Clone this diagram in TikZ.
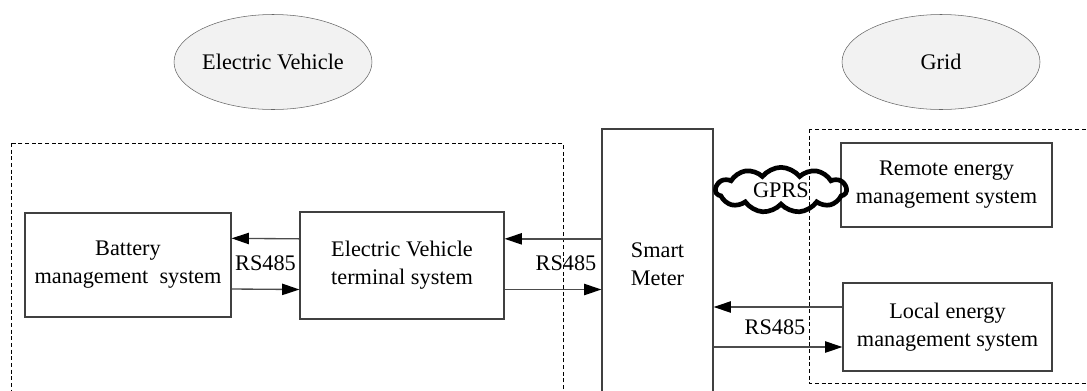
\documentclass[tikz,border=0pt]{standalone}
\usepackage{fontspec}
\setmainfont{Liberation Serif}
\usetikzlibrary{arrows.meta,shapes.geometric,shapes.symbols}

\begin{document}
\begin{tikzpicture}[x=0.75pt,y=-0.75pt,font=\fontsize{16.7}{21}\selectfont,
  box/.style={draw=black!75,line width=0.9pt,align=center,inner sep=0pt},
  party/.style={draw=black!60,ellipse,fill=black!5,inner xsep=-2pt,inner ysep=0pt,
                minimum width=148.5pt,minimum height=71.25pt},
  region/.style={draw=black,line width=0.5pt,dash pattern=on 3pt off 2pt},
  link/.style={draw=black!70,line width=1pt,
               -{Triangle[length=13pt,width=8.5pt,color=black]}}]
\useasboundingbox (0,0) rectangle (1087,390);
\clip (0,0) rectangle (1087,390);

\node[party] (ev) at (273,62) {Electric Vehicle};
\node[party] (grid) at (941,62) {Grid};

\draw[region] (11,143) rectangle (563,400);
\draw[region] (809,129) rectangle (1100,383);

\node[box,minimum width=154.5pt,minimum height=78pt]
  (bms) at (128,265) {Battery\\management\ \ system};
\node[box,minimum width=153pt,minimum height=80.25pt]
  (evt) at (402,265.5) {Electric Vehicle\\terminal system};
\node[box,minimum width=83.25pt,minimum height=202.5pt]
  (sm) at (657.5,264) {Smart\\Meter};
\node[box,minimum width=158.25pt,minimum height=63pt]
  (rems) at (946.5,185) {Remote energy\\management system};
\node[box,minimum width=156.75pt,minimum height=66pt]
  (lems) at (947.5,327) {Local energy\\management system};

\node[cloud,draw,line width=3.5pt,cloud puffs=11,cloud puff arc=105,aspect=2.8,
      minimum width=98pt,minimum height=34pt,inner sep=0pt]
  (gprs) at (781,190) {GPRS};

% serial links
\draw[link] ([yshift=20pt]evt.west) -- ([yshift=20pt]bms.east);
\draw[link] ([yshift=-18pt]bms.east) -- ([yshift=-18pt]evt.west);
\node (l1) at (265.5,263) {RS485};

\coordinate (evtop) at ([yshift=20pt]evt.east);
\coordinate (evbot) at ([yshift=-18pt]evt.east);
\draw[link] (sm.west |- evtop) -- (evtop);
\draw[link] (evbot) -- (sm.west |- evbot);
\node (l2) at (566,263) {RS485};

\draw[link] ([yshift=15pt]lems.west) -- ([yshift=15pt]lems.west -| sm.east);
\draw[link] ([yshift=-15pt]lems.west -| sm.east) -- ([yshift=-15pt]lems.west);
\node (l3) at (775,327) {RS485};
\end{tikzpicture}
\end{document}
